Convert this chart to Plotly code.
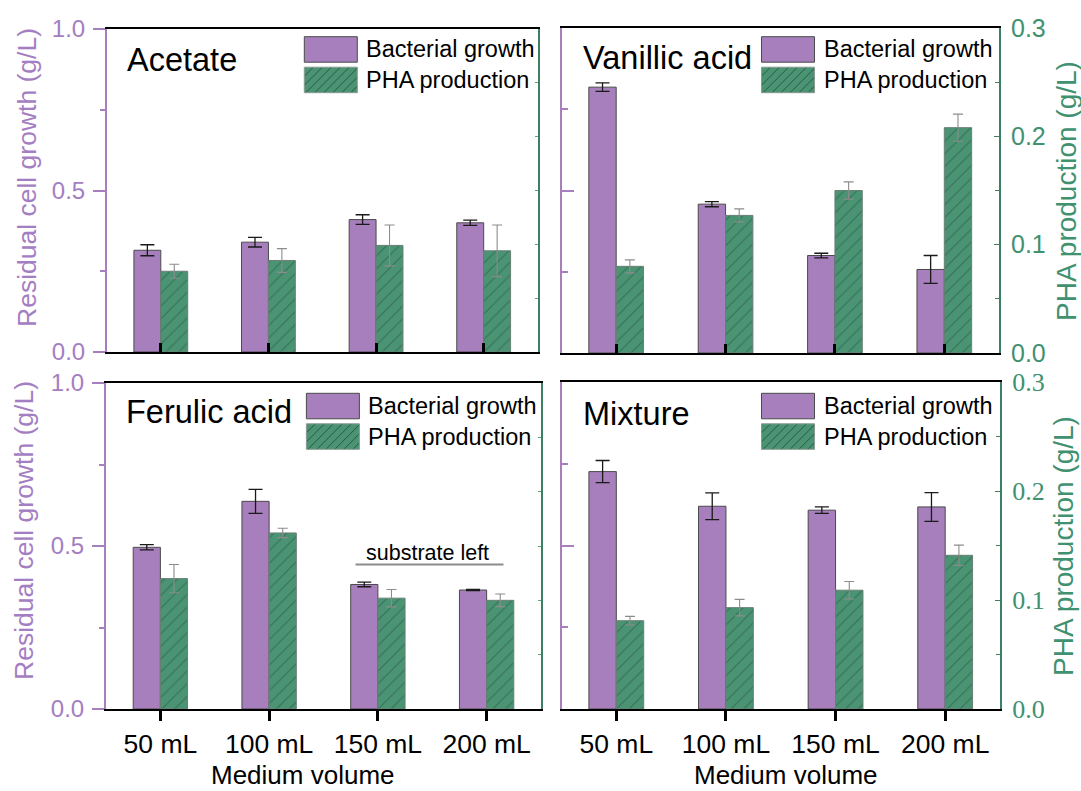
import plotly.graph_objects as go

# ---------------- data ----------------
categories = ["50 mL", "100 mL", "150 mL", "200 mL"]

acetate_growth = [0.315, 0.340, 0.410, 0.400]
acetate_growth_err = [0.017, 0.015, 0.015, 0.008]
acetate_pha = [0.075, 0.085, 0.099, 0.094]
acetate_pha_err = [0.0065, 0.011, 0.019, 0.024]

vanillic_growth = [0.818, 0.458, 0.300, 0.257]
vanillic_growth_err = [0.013, 0.008, 0.007, 0.043]
vanillic_pha = [0.080, 0.127, 0.150, 0.208]
vanillic_pha_err = [0.006, 0.006, 0.008, 0.0125]

ferulic_growth = [0.496, 0.637, 0.382, 0.365]
ferulic_growth_err = [0.008, 0.037, 0.007, 0.002]
ferulic_pha = [0.120, 0.162, 0.102, 0.100]
ferulic_pha_err = [0.013, 0.0043, 0.008, 0.0058]

mixture_growth = [0.726, 0.620, 0.608, 0.618]
mixture_growth_err = [0.034, 0.041, 0.010, 0.044]
mixture_pha = [0.081, 0.093, 0.109, 0.141]
mixture_pha_err = [0.004, 0.0076, 0.008, 0.0093]

panel_titles = ["Acetate", "Vanillic acid", "Ferulic acid", "Mixture"]
legend_labels = ["Bacterial growth", "PHA production"]

# ---------------- style ----------------
W, H = 1081, 791
PURPLE = "#a77fbd"
PURPLE_TXT = "#a47ec2"
GREEN = "#4a9474"
GREEN_TXT = "#3f9170"
GREEN_LINE = "#3d7f62"
HATCH = "#1f4a36"
SANS = "Liberation Sans, Arial, sans-serif"
SERIF = "Liberation Serif, Times New Roman, serif"


def fx(p):
    return p / W


def fy(p):
    return 1 - p / H


panels = [
    dict(data=(acetate_growth, acetate_growth_err, acetate_pha, acetate_pha_err),
         xd=(107, 537.5), yd=(29, 352), right_labels=False, left_labels=True, bottom=False,
         title_xy=(125, 60), leg=(304.3, 36.7)),
    dict(data=(vanillic_growth, vanillic_growth_err, vanillic_pha, vanillic_pha_err),
         xd=(561.5, 999), yd=(28, 353), right_labels=True, left_labels=False, bottom=False,
         title_xy=(581, 58), leg=(761.5, 36.7), rfont=SANS, rsize=25),
    dict(data=(ferulic_growth, ferulic_growth_err, ferulic_pha, ferulic_pha_err),
         xd=(106, 541), yd=(383, 709), right_labels=False, left_labels=True, bottom=True,
         title_xy=(124, 412), leg=(306.4, 393.3)),
    dict(data=(mixture_growth, mixture_growth_err, mixture_pha, mixture_pha_err),
         xd=(561.5, 1000), yd=(382, 709), right_labels=True, left_labels=False, bottom=True,
         title_xy=(581, 414), leg=(761.5, 393.3), rfont=SERIF, rsize=26),
]

fig = go.Figure()
layout = {}
shapes = []
annotations = []

for i, p in enumerate(panels):
    g, ge, ph, phe = p["data"]
    xa = "x" if i == 0 else f"x{i+1}"
    ya_n = 2 * i + 1
    yb_n = 2 * i + 2
    ya = "y" if ya_n == 1 else f"y{ya_n}"
    yb = f"y{yb_n}"

    fig.add_trace(go.Bar(
        x=categories, y=g, xaxis=xa, yaxis=ya, width=0.25, offset=-0.25,
        marker=dict(color=PURPLE, line=dict(color="#4a4a4a", width=1)),
        error_y=dict(type="data", array=ge, color="#1a1a1a", thickness=1.3, width=7),
        showlegend=False, name=legend_labels[0]))
    fig.add_trace(go.Bar(
        x=categories, y=ph, xaxis=xa, yaxis=yb, width=0.25, offset=0.0,
        marker=dict(color=GREEN, line=dict(color="#6a7f75", width=1),
                    pattern=dict(shape="/", fgcolor=HATCH, size=9, solidity=0.12)),
        error_y=dict(type="data", array=phe, color="#8c8c8c", thickness=1.1, width=5),
        showlegend=False, name=legend_labels[1]))

    xkey = "xaxis" if i == 0 else f"xaxis{i+1}"
    ykey = "yaxis" if ya_n == 1 else f"yaxis{ya_n}"
    y2key = f"yaxis{yb_n}"

    layout[xkey] = dict(
        domain=[fx(p["xd"][0]), fx(p["xd"][1])], anchor=ya,
        type="category", range=[-0.5, 3.5],
        showline=True, linecolor="black", linewidth=2, mirror=True,
        ticks="outside" if p["bottom"] else "inside",
        ticklen=10 if p["bottom"] else 9, tickwidth=2.5, tickcolor="black",
        showticklabels=p["bottom"], tickfont=dict(family=SANS, size=26.5, color="black"),
        showgrid=False, zeroline=False, fixedrange=True)

    if p["left_labels"]:
        layout[ykey] = dict(
            domain=[fy(p["yd"][1]), fy(p["yd"][0])], anchor=xa, range=[0, 1],
            showline=True, linecolor=PURPLE, linewidth=2,
            tickvals=[0, 0.5, 1.0], ticktext=["0.0", "0.5", "1.0"],
            ticks="outside", ticklen=12, tickwidth=2, tickcolor=PURPLE,
            minor=dict(tickvals=[0.25, 0.75], ticks="outside", ticklen=5, tickwidth=2, tickcolor=PURPLE),
            ticklabelstandoff=3,
            tickfont=dict(family=SANS, size=24, color=PURPLE_TXT),
            showgrid=False, zeroline=False, fixedrange=True)
    else:
        layout[ykey] = dict(
            domain=[fy(p["yd"][1]), fy(p["yd"][0])], anchor=xa, range=[0, 1],
            showline=True, linecolor=PURPLE, linewidth=2,
            tickvals=[0, 0.5, 1.0], showticklabels=False,
            ticks="inside", ticklen=12, tickwidth=2, tickcolor=PURPLE,
            minor=dict(tickvals=[0.25, 0.75], ticks="inside", ticklen=6, tickwidth=2, tickcolor=PURPLE),
            showgrid=False, zeroline=False, fixedrange=True)

    if p["right_labels"]:
        layout[y2key] = dict(
            overlaying=ya, side="right", anchor=xa, range=[0, 0.3],
            showline=True, linecolor=GREEN_LINE, linewidth=2,
            tickvals=[0, 0.1, 0.2, 0.3], ticktext=["0.0", "0.1", "0.2", "0.3"],
            ticks="inside", ticklen=5, tickwidth=1, tickcolor=GREEN_LINE,
            minor=dict(tickvals=[0.05, 0.15, 0.25], ticks="inside", ticklen=4, tickwidth=1, tickcolor=GREEN_LINE),
            ticklabelstandoff=5,
            tickfont=dict(family=p["rfont"], size=p["rsize"], color=GREEN_TXT),
            showgrid=False, zeroline=False, fixedrange=True)
    else:
        layout[y2key] = dict(
            overlaying=ya, side="right", anchor=xa, range=[0, 0.3],
            showline=True, linecolor=GREEN_LINE, linewidth=2,
            tickvals=[0.05, 0.1, 0.15, 0.2, 0.25], showticklabels=False,
            ticks="inside", ticklen=3, tickwidth=1, tickcolor="#5aa585",
            showgrid=False, zeroline=False, fixedrange=True)

    # panel title
    tx, ty = p["title_xy"]
    annotations.append(dict(text=panel_titles[i], x=fx(tx), y=fy(ty), xref="paper", yref="paper",
                            xanchor="left", yanchor="middle", showarrow=False,
                            font=dict(family=SANS, size=32.5, color="black")))

    # legend (manual, large swatches)
    lx, ly = p["leg"]
    sw, sh, gap = 53, 25.5, 5
    shapes.append(dict(type="rect", xref="paper", yref="paper",
                       x0=fx(lx), x1=fx(lx + sw), y0=fy(ly + sh), y1=fy(ly),
                       fillcolor=PURPLE, line=dict(color="#4a4a4a", width=1)))
    gy0 = ly + sh + gap
    gy1 = gy0 + sh
    shapes.append(dict(type="rect", xref="paper", yref="paper",
                       x0=fx(lx), x1=fx(lx + sw), y0=fy(gy1), y1=fy(gy0),
                       fillcolor=GREEN, line=dict(width=0)))
    step = 9
    c = lx - sh
    while c < lx + sw:
        ylo = max(gy0, gy1 - (lx + sw - c))
        yhi = min(gy1, gy1 - (lx - c))
        if yhi > ylo:
            xs = c + (gy1 - yhi)
            xe = c + (gy1 - ylo)
            shapes.append(dict(type="line", xref="paper", yref="paper",
                               x0=fx(xs), y0=fy(yhi), x1=fx(xe), y1=fy(ylo),
                               line=dict(color=HATCH, width=0.8)))
        c += step
    shapes.append(dict(type="rect", xref="paper", yref="paper",
                       x0=fx(lx), x1=fx(lx + sw), y0=fy(gy1), y1=fy(gy0),
                       fillcolor="rgba(0,0,0,0)", line=dict(color="#8a9a92", width=1)))
    for k, (lab, cy) in enumerate([(legend_labels[0], ly + sh / 2), (legend_labels[1], gy0 + sh / 2)]):
        annotations.append(dict(text=lab, x=fx(lx + sw + 7), y=fy(cy), xref="paper", yref="paper",
                                xanchor="left", yanchor="middle", showarrow=False,
                                font=dict(family=SANS, size=23.5, color="black")))

# axis titles
for (x, y) in [(27, 178), (24, 531)]:
    annotations.append(dict(text="Residual cell growth (g/L)", x=fx(x), y=fy(y), xref="paper", yref="paper",
                            textangle=-90, showarrow=False, xanchor="center", yanchor="middle",
                            font=dict(family=SANS, size=26.5, color=PURPLE_TXT)))
for (x, y) in [(1066, 191), (1063, 546)]:
    annotations.append(dict(text="PHA production (g/L)", x=fx(x), y=fy(y), xref="paper", yref="paper",
                            textangle=-90, showarrow=False, xanchor="center", yanchor="middle",
                            font=dict(family=SANS, size=28, color=GREEN_TXT)))
for (x, y) in [(302.5, 775), (786, 775)]:
    annotations.append(dict(text="Medium volume", x=fx(x), y=fy(y), xref="paper", yref="paper",
                            showarrow=False, xanchor="center", yanchor="middle",
                            font=dict(family=SANS, size=26, color="black")))

# "substrate left" note in Ferulic acid panel
annotations.append(dict(text="substrate left", x=fx(427), y=fy(553), xref="paper", yref="paper",
                        showarrow=False, xanchor="center", yanchor="middle",
                        font=dict(family=SANS, size=21.5, color="black")))
shapes.append(dict(type="line", xref="paper", yref="paper", x0=fx(355.5), x1=fx(503.5),
                   y0=fy(564.5), y1=fy(564.5), line=dict(color="#8c8c8c", width=2)))

fig.update_layout(
    width=W, height=H, margin=dict(l=0, r=0, t=0, b=0, autoexpand=False),
    paper_bgcolor="white", plot_bgcolor="white",
    showlegend=False, shapes=shapes, annotations=annotations,
    font=dict(family=SANS), **layout)

fig.write_html("out.html", config={"displayModeBar": False},
               post_script="document.body.style.margin='0';document.body.style.overflow='hidden';")
